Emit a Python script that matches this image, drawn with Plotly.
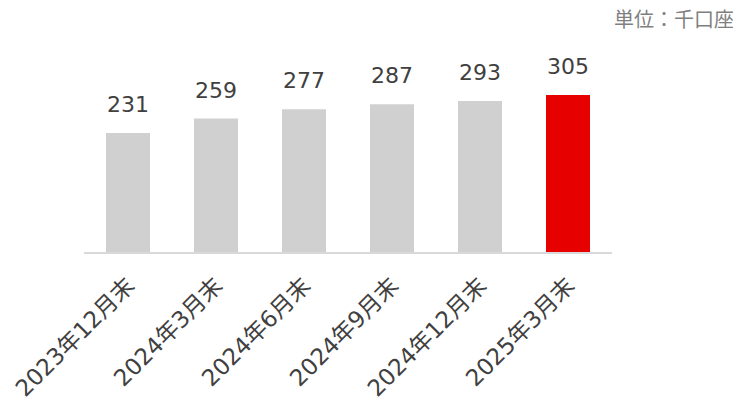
import plotly.graph_objects as go

categories = ["2023年12月末", "2024年3月末", "2024年6月末", "2024年9月末", "2024年12月末", "2025年3月末"]
values = [231, 259, 277, 287, 293, 305]
bar_colors = ["#d0d0d0", "#d0d0d0", "#d0d0d0", "#d0d0d0", "#d0d0d0", "#e60000"]
unit_label = "単位：千口座"

FONT = "DejaVu Sans, Noto Sans CJK JP, sans-serif"

fig = go.Figure()
fig.add_trace(go.Bar(
    x=categories, y=values,
    marker=dict(color=bar_colors, line=dict(width=0)),
    width=0.5,
    hoverinfo="skip",
))

for c, v in zip(categories, values):
    fig.add_annotation(x=c, y=v, text=str(v), showarrow=False,
                       xanchor="center", yanchor="bottom", yshift=14,
                       font=dict(family=FONT, size=22, color="#404040"))

fig.add_annotation(xref="paper", yref="paper", x=1.235, y=1.0, yshift=62,
                   text=unit_label, showarrow=False, xanchor="right", yanchor="middle",
                   font=dict(family=FONT, size=20, color="#7f7f7f"))

fig.update_layout(
    width=741, height=404,
    margin=dict(l=76, r=137, t=74, b=160, autoexpand=False),
    paper_bgcolor="white", plot_bgcolor="white",
    showlegend=False,
    font=dict(family=FONT, color="#404040"),
    xaxis=dict(
        automargin=False,
        showline=True, linecolor="#d9d9d9", linewidth=2,
        tickangle=-45, tickfont=dict(family=FONT, size=23, color="#404040"),
        ticks="outside", ticklen=9, tickcolor="rgba(0,0,0,0)",
        showgrid=False, zeroline=False,
    ),
    yaxis=dict(range=[0, 330], visible=False, showgrid=False, zeroline=False, automargin=False),
)

fig.write_html("out.html")
